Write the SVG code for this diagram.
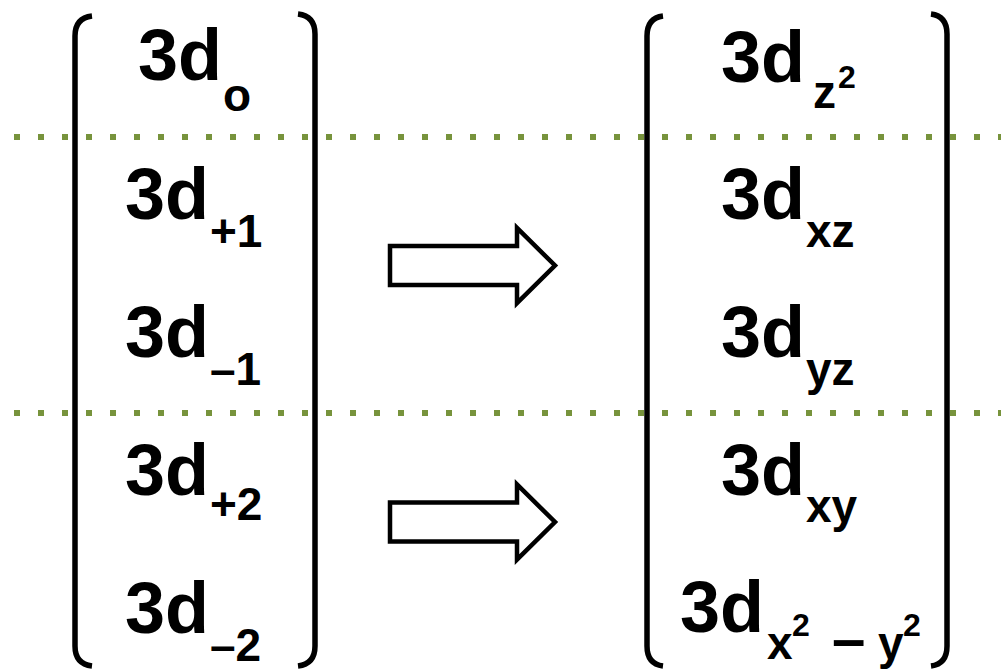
<svg xmlns="http://www.w3.org/2000/svg" width="1001" height="671" viewBox="0 0 1001 671">
<style>
.dot{stroke:#77933C;stroke-width:6;stroke-dasharray:6 18;fill:none}
.br{stroke:#000;stroke-width:5.5;fill:none;stroke-linecap:butt}
.m{font-family:"Liberation Sans",Arial,sans-serif;font-weight:bold;font-size:72px;fill:#000}
.s{font-size:46px}
.p{font-size:32px}
.d{font-size:60px}
.arr{fill:#fff;stroke:#000;stroke-width:4.5;stroke-linejoin:miter}
</style>
<rect width="1001" height="671" fill="#fff"/>
<g id="separators">
<line class="dot" x1="14" y1="137" x2="1001" y2="137"/>
<line class="dot" x1="14" y1="413" x2="1001" y2="413"/>
</g>
<g id="left-matrix">
<path class="br" d="M92,16 Q75,18 75,36 L75,646 Q75,664 92,666"/>
<path class="br" d="M298,14 Q315,16 315,34 L315,646 Q315,664 298,666"/>
<text class="m" x="138" y="80">3d<tspan class="s" x="223" y="111">o</tspan></text>
<text class="m" x="125" y="219">3d<tspan class="s" x="210" y="247">+1</tspan></text>
<text class="m" x="125" y="357">3d<tspan class="s" x="210" y="385">–1</tspan></text>
<text class="m" x="125" y="495">3d<tspan class="s" x="210" y="520">+2</tspan></text>
<text class="m" x="125" y="633">3d<tspan class="s" x="210" y="661">–2</tspan></text>
</g>
<g id="right-matrix">
<path class="br" d="M663,16 Q647,18 647,36 L647,646 Q647,664 663,666"/>
<path class="br" d="M931,14 Q947,16 947,34 L947,646 Q947,664 931,666"/>
<text class="m" x="721" y="82">3d<tspan class="s" x="813" y="108">z</tspan><tspan class="p" x="838" y="88">2</tspan></text>
<text class="m" x="721" y="219">3d<tspan class="s" x="806" y="247">xz</tspan></text>
<text class="m" x="721" y="357">3d<tspan class="s" x="806" y="385">yz</tspan></text>
<text class="m" x="721" y="495">3d<tspan class="s" x="806" y="522">xy</tspan></text>
<text class="m" x="680" y="632">3d<tspan class="s" x="767" y="659">x</tspan><tspan class="p" x="792" y="636">2</tspan><tspan class="d" x="832" y="659">–</tspan><tspan class="s" x="878" y="659">y</tspan><tspan class="p" x="903" y="636">2</tspan></text>
</g>
<g id="connectors">
<path class="arr" d="M390,246 L517,246 L517,228 L555,265.5 L517,303 L517,285 L390,285 Z"/>
<path class="arr" d="M390,502.5 L517,502.5 L517,484.5 L555,522 L517,559.5 L517,541.5 L390,541.5 Z"/>
</g>
</svg>
